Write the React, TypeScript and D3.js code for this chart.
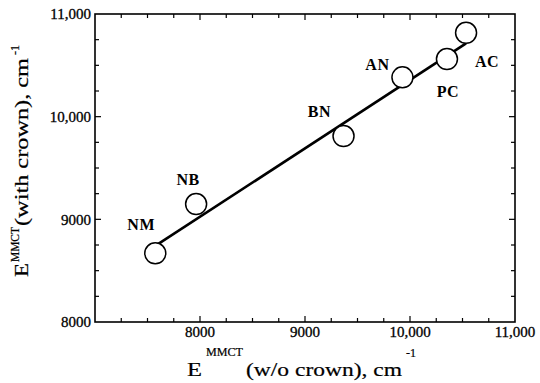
import React, { useEffect, useRef } from 'react';
import * as d3 from 'd3';

// Compounds and their MMCT energies (cm^-1)
const labels = ['NM', 'NB', 'BN', 'AN', 'PC', 'AC'];
const withoutCrown = [7574, 7963, 9367, 9928, 10352, 10534];
const withCrown = [8669, 9149, 9811, 10383, 10561, 10817];

// Least-squares line end points (x: w/o crown, y: with crown)
const fitX = [7574, 10534];
const fitY = [8741, 10714];

// Tick labels
const xTickValues = [8000, 9000, 10000, 11000];
const xTickLabels = ['8000', '9000', '10,000', '11,000'];
const yTickValues = [8000, 9000, 10000, 11000];
const yTickLabels = ['8000', '9000', '10,000', '11,000'];

// Label offsets from each circle centre (px)
const labelOffset: Record<string, [number, number]> = {
  NM: [-14, -23],
  NB: [-8, -19],
  BN: [-24, -19],
  AN: [-25, -7],
  PC: [1, 38],
  AC: [21, 34],
};

const FONT = '"Liberation Serif", "Times New Roman", serif';

const App = () => {
  const ref = useRef<SVGSVGElement>(null);

  useEffect(() => {
    const svg = d3.select(ref.current);
    svg.selectAll('*').remove();

    const width = 540;
    const height = 383;
    const margin = { top: 14, right: 25, bottom: 61, left: 95 };
    const innerWidth = width - margin.left - margin.right;
    const innerHeight = height - margin.top - margin.bottom;

    const g = svg.append('g')
      .attr('transform', `translate(${margin.left},${margin.top})`);

    const x = d3.scaleLinear().domain([7000, 11000]).range([0, innerWidth]);
    const y = d3.scaleLinear().domain([8000, 11000]).range([innerHeight, 0]);

    // Frame
    g.append('rect')
      .attr('width', innerWidth)
      .attr('height', innerHeight)
      .attr('fill', 'none')
      .attr('stroke', '#000')
      .attr('stroke-width', 1.6);

    // Inward ticks on all four sides
    const major = 6;
    const minor = 4;
    const xt = d3.range(7250, 11000, 250);
    const yt = d3.range(8250, 11000, 250);
    const len = (v: number) => (v % 1000 === 0 ? major : minor);

    g.selectAll('.xtb').data(xt).enter().append('line')
      .attr('x1', d => x(d)).attr('x2', d => x(d))
      .attr('y1', innerHeight).attr('y2', d => innerHeight - len(d))
      .attr('stroke', '#000').attr('stroke-width', 1.2);
    g.selectAll('.xtt').data(xt).enter().append('line')
      .attr('x1', d => x(d)).attr('x2', d => x(d))
      .attr('y1', 0).attr('y2', d => len(d))
      .attr('stroke', '#000').attr('stroke-width', 1.2);
    g.selectAll('.ytl').data(yt).enter().append('line')
      .attr('y1', d => y(d)).attr('y2', d => y(d))
      .attr('x1', 0).attr('x2', d => len(d))
      .attr('stroke', '#000').attr('stroke-width', 1.2);
    g.selectAll('.ytr').data(yt).enter().append('line')
      .attr('y1', d => y(d)).attr('y2', d => y(d))
      .attr('x1', innerWidth).attr('x2', d => innerWidth - len(d))
      .attr('stroke', '#000').attr('stroke-width', 1.2);

    // Tick labels
    g.selectAll('.xlab').data(xTickValues).enter().append('text')
      .attr('x', d => x(d))
      .attr('y', innerHeight + 15)
      .attr('text-anchor', 'middle')
      .attr('font-family', FONT)
      .attr('font-size', '15px')
      .attr('stroke', '#000')
      .attr('stroke-width', 0.3)
      .text((d, i) => xTickLabels[i]);

    g.selectAll('.ylab').data(yTickValues).enter().append('text')
      .attr('x', -4)
      .attr('y', d => y(d))
      .attr('dy', '0.35em')
      .attr('text-anchor', 'end')
      .attr('font-family', FONT)
      .attr('font-size', '15px')
      .attr('stroke', '#000')
      .attr('stroke-width', 0.3)
      .text((d, i) => yTickLabels[i]);

    // Fit line
    const line = d3.line<number>()
      .x(d => x(fitX[d]))
      .y(d => y(fitY[d]));
    g.append('path')
      .attr('d', line([0, 1]))
      .attr('fill', 'none')
      .attr('stroke', '#000')
      .attr('stroke-width', 2.6);

    // Open circles
    g.selectAll('.pt').data(labels).enter().append('circle')
      .attr('cx', (d, i) => x(withoutCrown[i]))
      .attr('cy', (d, i) => y(withCrown[i]))
      .attr('r', 10.5)
      .attr('fill', '#fff')
      .attr('stroke', '#000')
      .attr('stroke-width', 1.5);

    // Point labels
    g.selectAll('.plab').data(labels).enter().append('text')
      .attr('x', (d, i) => x(withoutCrown[i]) + labelOffset[d][0])
      .attr('y', (d, i) => y(withCrown[i]) + labelOffset[d][1])
      .attr('text-anchor', 'middle')
      .attr('font-family', FONT)
      .attr('font-weight', 'bold')
      .attr('font-size', '16px')
      .attr('letter-spacing', '0.6px')
      .text(d => d);

    // X axis title: E^MMCT (w/o crown), cm^-1
    const xt0 = svg.append('g').attr('font-family', FONT)
      .attr('stroke', '#000').attr('stroke-width', 0.2);
    xt0.append('text').attr('x', 187).attr('y', 376).attr('font-size', '18px')
      .attr('textLength', 15).attr('lengthAdjust', 'spacingAndGlyphs').text('E');
    xt0.append('text').attr('x', 206).attr('y', 356).attr('font-size', '11.5px')
      .attr('textLength', 37).attr('lengthAdjust', 'spacingAndGlyphs').text('MMCT');
    xt0.append('text').attr('x', 246).attr('y', 376).attr('font-size', '18px')
      .attr('textLength', 156).attr('lengthAdjust', 'spacingAndGlyphs').text('(w/o crown), cm');
    xt0.append('text').attr('x', 406).attr('y', 357).attr('font-size', '12px').text('-1');

    // Y axis title: E^MMCT(with crown), cm^-1, rotated
    const yt0 = svg.append('g').attr('font-family', FONT)
      .attr('stroke', '#000').attr('stroke-width', 0.2)
      .attr('transform', 'translate(28,277) rotate(-90)');
    yt0.append('text').attr('x', 0).attr('y', 0).attr('font-size', '18px')
      .attr('textLength', 14).attr('lengthAdjust', 'spacingAndGlyphs').text('E');
    yt0.append('text').attr('x', 15).attr('y', -9).attr('font-size', '11.5px')
      .attr('textLength', 35).attr('lengthAdjust', 'spacingAndGlyphs').text('MMCT');
    yt0.append('text').attr('x', 51).attr('y', 0).attr('font-size', '18px')
      .attr('textLength', 168).attr('lengthAdjust', 'spacingAndGlyphs').text('(with crown), cm');
    yt0.append('text').attr('x', 222).attr('y', -9).attr('font-size', '12px').text('-1');
  }, []);

  return (
    <svg
      ref={ref}
      width={540}
      height={383}
      style={{ position: 'absolute', left: 0, top: 0, background: '#fff' }}
    />
  );
};

export default App;
